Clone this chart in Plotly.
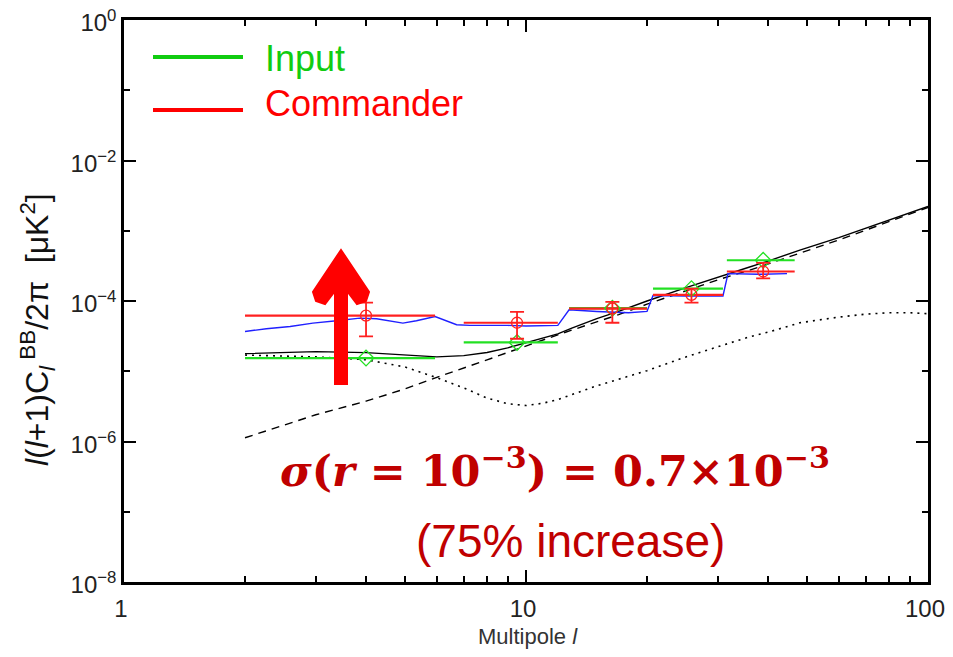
import plotly.graph_objects as go

# ---------------- data ----------------
ell_theory = [2, 3, 4, 5, 6, 7, 8, 9, 10, 11, 12, 13, 15, 17, 20, 25, 30, 36, 40, 48, 60, 70, 80, 90, 100]
total_bb = [1.78e-5, 1.9e-5, 1.84e-5, 1.7e-5, 1.6e-5, 1.67e-5, 1.85e-5, 2.15e-5, 2.55e-5, 3.0e-5, 3.4e-5,
            4.1e-5, 5.6e-5, 7.1e-5, 1.0e-4, 1.55e-4, 2.2e-4, 3.05e-4, 3.7e-4, 5.3e-4, 8.0e-4, 1.08e-3,
            1.42e-3, 1.79e-3, 2.22e-3]
lensing_bb = [1.13e-6, 2.4e-6, 3.75e-6, 5.6e-6, 8.2e-6, 1.1e-5, 1.45e-5, 1.85e-5, 2.3e-5, 2.8e-5, 3.3e-5,
              3.85e-5, 5.0e-5, 6.4e-5, 9.0e-5, 1.4e-4, 2.0e-4, 2.75e-4, 3.35e-4, 4.8e-4, 7.4e-4, 1.02e-3,
              1.35e-3, 1.72e-3, 2.15e-3]
tensor_bb = [1.7e-5, 1.6e-5, 1.46e-5, 1.15e-5, 8.1e-6, 5.8e-6, 4.15e-6, 3.45e-6, 3.25e-6, 3.5e-6, 3.95e-6,
             4.65e-6, 6.2e-6, 7.7e-6, 1.02e-5, 1.6e-5, 2.2e-5, 3.1e-5, 3.6e-5, 4.9e-5, 5.9e-5, 6.5e-5,
             6.8e-5, 6.8e-5, 6.6e-5]

ell_blue = [2.0, 2.26, 2.59, 2.95, 3.38, 3.86, 4.25, 4.94, 5.34, 5.94, 6.72, 7.25, 9.0, 10.0, 12.0, 12.8,
            15.0, 17.0, 18.0, 20.0, 20.7, 25.0, 30.9, 31.8, 38.0, 44.6]
blue_cl = [3.68e-5, 4.03e-5, 4.34e-5, 4.85e-5, 5.23e-5, 5.71e-5, 5.6e-5, 4.85e-5, 5.23e-5, 6.0e-5, 4.6e-5,
           4.5e-5, 4.5e-5, 4.4e-5, 4.5e-5, 7.5e-5, 7.1e-5, 7.0e-5, 6.8e-5, 7.1e-5, 1.2e-4, 1.18e-4, 1.18e-4,
           2.45e-4, 2.4e-4, 2.45e-4]

bin_lo = [2, 7, 12.8, 20.7, 31.6]
bin_hi = [5.94, 12, 20, 30.9, 46.6]
bin_center = [4, 9.5, 16.4, 25.8, 38.9]
input_cl = [1.54e-5, 2.57e-5, 7.9e-5, 1.5e-4, 3.8e-4]
commander_cl = [6.2e-5, 4.9e-5, 7.8e-5, 1.22e-4, 2.63e-4]
commander_up = [9.5e-5, 7.0e-5, 9.7e-5, 1.5e-4, 3.5e-4]
commander_lo = [3.13e-5, 2.9e-5, 4.9e-5, 9.5e-5, 2.1e-4]

x_tick_vals = [1, 10, 100]
x_tick_text = ["1", "10", "100"]
x_minor_vals = [2, 3, 4, 5, 6, 7, 8, 9, 20, 30, 40, 50, 60, 70, 80, 90]
y_tick_vals = [1e0, 1e-2, 1e-4, 1e-6, 1e-8]
y_tick_text = ["10<sup>0</sup>", "10<sup>−2</sup>", "10<sup>−4</sup>", "10<sup>−6</sup>", "10<sup>−8</sup>"]
y_minor_vals = [1e-1, 1e-3, 1e-5, 1e-7]

# ---------------- figure ----------------
OFF = 8  # default body margin of the html page
W, H = 937, 641
ML, MR, MT, MB = 116, 17, 12, 67
PW, PH = W - ML - MR, H - MT - MB


def px(x):
    return (x - OFF - ML) / PW


def py(y):
    return (OFF + H - MB - y) / PH


GREEN = "#22e022"
RED = "#ff2020"
SANS = "Liberation Sans, Arial, sans-serif"

fig = go.Figure()

fig.add_trace(go.Scatter(x=ell_theory, y=lensing_bb, mode="lines",
                         line=dict(color="black", width=1.4, dash="8px,6px"), showlegend=False))
fig.add_trace(go.Scatter(x=ell_theory, y=tensor_bb, mode="lines",
                         line=dict(color="black", width=1.6, dash="2px,5px"), showlegend=False))
fig.add_trace(go.Scatter(x=ell_theory, y=total_bb, mode="lines",
                         line=dict(color="black", width=1.4), showlegend=False))
fig.add_trace(go.Scatter(x=ell_blue, y=blue_cl, mode="lines",
                         line=dict(color="#2020ff", width=1.4), showlegend=False))


def seg(lo, hi, v):
    xs, ys = [], []
    for a, b, c in zip(lo, hi, v):
        xs += [a, b, None]
        ys += [c, c, None]
    return xs, ys


gx, gy = seg(bin_lo, bin_hi, input_cl)
fig.add_trace(go.Scatter(x=gx, y=gy, mode="lines", line=dict(color=GREEN, width=2.2), showlegend=False))
rx, ry = seg(bin_lo, bin_hi, commander_cl)
fig.add_trace(go.Scatter(x=rx, y=ry, mode="lines", line=dict(color=RED, width=2.2), showlegend=False))

fig.add_trace(go.Scatter(x=bin_center, y=input_cl, mode="markers",
                         marker=dict(symbol="diamond-open", size=12, color=GREEN, line=dict(width=1.3)),
                         showlegend=False))
fig.add_trace(go.Scatter(
    x=bin_center, y=commander_cl, mode="markers",
    marker=dict(symbol="circle-open", size=11, color=RED, line=dict(width=1.3)),
    error_y=dict(type="data", symmetric=False,
                 array=[u - v for u, v in zip(commander_up, commander_cl)],
                 arrayminus=[v - l for v, l in zip(commander_cl, commander_lo)],
                 color=RED, thickness=1.8, width=7),
    showlegend=False))

axis_common = dict(showline=True, linewidth=2.5, linecolor="black", mirror="allticks",
                   ticks="inside", ticklen=12, tickwidth=2, tickcolor="black",
                   showgrid=False, zeroline=False, ticklabeloverflow="allow", automargin=False,
                   tickfont=dict(family=SANS, size=24, color="#222"))

fig.update_xaxes(type="log", range=[0, 2], tickmode="array", tickvals=x_tick_vals, ticktext=x_tick_text,
                 minor=dict(tickmode="array", tickvals=x_minor_vals, ticks="inside", ticklen=6,
                            tickwidth=1.5, tickcolor="black", showgrid=False),
                 ticklabelstandoff=3, ticklabelshift=-3, **axis_common)
fig.update_yaxes(type="log", range=[-8, 0], tickmode="array", tickvals=y_tick_vals, ticktext=y_tick_text,
                 minor=dict(tickmode="array", tickvals=y_minor_vals, ticks="inside", ticklen=6,
                            tickwidth=1.5, tickcolor="black", showgrid=False),
                 ticklabelstandoff=0, ticklabelshift=3, **axis_common)

shapes = []
# legend lines
shapes.append(dict(type="line", xref="paper", yref="paper", x0=px(153), x1=px(243), y0=py(57), y1=py(57),
                   line=dict(color="#11cc11", width=4)))
shapes.append(dict(type="line", xref="paper", yref="paper", x0=px(153), x1=px(243), y0=py(110), y1=py(110),
                   line=dict(color="#ff0000", width=4)))
# big red arrow
pts = [(341, 250), (369, 292), (366, 301), (357, 304), (347, 291), (347, 384), (335, 384), (335, 291),
       (325, 304), (316, 301), (313, 292)]
path = "M " + " L ".join(f"{px(a):.5f},{py(b):.5f}" for a, b in pts) + " Z"
shapes.append(dict(type="path", xref="paper", yref="paper", path=path, fillcolor="#ff0000",
                   line=dict(color="#ff0000", width=2)))

annotations = [
    dict(text="Input", x=px(263), y=py(58), xref="paper", yref="paper", xanchor="left", yanchor="middle",
         showarrow=False, font=dict(family=SANS, size=36, color="#11cc11")),
    dict(text="Commander", x=px(263), y=py(104), xref="paper", yref="paper", xanchor="left", yanchor="middle",
         showarrow=False, font=dict(family=SANS, size=36, color="#ff0000")),
    dict(text="<b><i>σ</i>(<i>r</i> = 10<sup>−3</sup>) = 0.7×10<sup>−3</sup></b>", x=px(555), y=py(468),
         xref="paper", yref="paper", xanchor="center", yanchor="middle", showarrow=False,
         font=dict(family="DejaVu Serif, Liberation Serif, serif", size=43, color="#c00000")),
    dict(text="(75% increase)", x=px(570), y=py(541), xref="paper", yref="paper", xanchor="center",
         yanchor="middle", showarrow=False,
         font=dict(family=SANS, size=46, color="#c00000")),
    dict(text="Multipole <i>l</i>", x=px(528), y=py(636), xref="paper", yref="paper", xanchor="center",
         yanchor="middle", showarrow=False,
         font=dict(family=SANS, size=22, color="#333")),
    dict(text="<i>l</i>(<i>l</i>+1)C<sub><i>l</i></sub><sup> BB</sup>/2π  [μK<sup>2</sup>]",
         x=px(37), y=py(330), xref="paper", yref="paper", xanchor="center", yanchor="middle",
         textangle=-90, showarrow=False,
         font=dict(family=SANS, size=32, color="#111")),
]

fig.update_layout(width=W, height=H, margin=dict(l=ML, r=MR, t=MT, b=MB), plot_bgcolor="white",
                  paper_bgcolor="white", shapes=shapes, annotations=annotations, showlegend=False)

fig.write_html("out.html")
